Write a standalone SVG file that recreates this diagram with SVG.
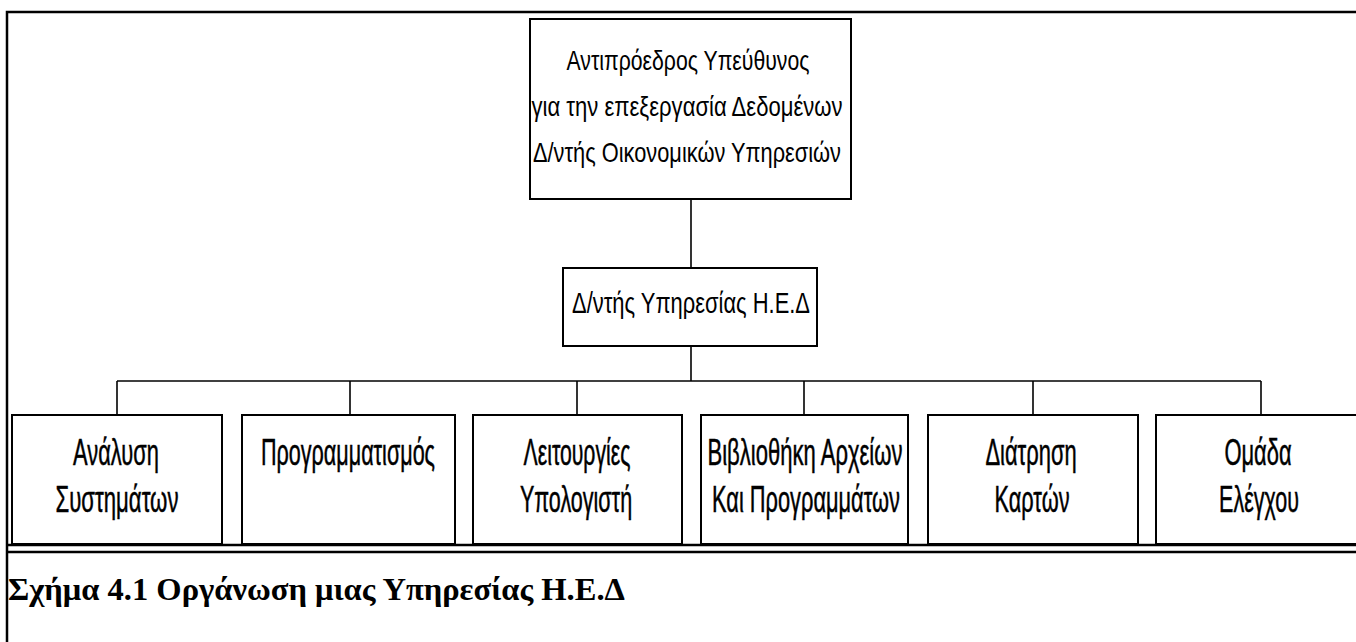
<svg xmlns="http://www.w3.org/2000/svg" width="1356" height="642" viewBox="0 0 1356 642">
<style>
.box{fill:#fff;stroke:#000;stroke-width:2}
.frame{fill:none;stroke:#000;stroke-width:2.5}
.conn{fill:none;stroke:#000;stroke-width:1.6}
.t{font-family:"Liberation Sans Narrow","Liberation Sans",Arial,sans-serif;fill:#000;text-anchor:middle}
.top{font-size:28px}
.mid{font-size:29px}
.low{font-size:37px;stroke:#000;stroke-width:0.5}
.cap{font-family:"Liberation Serif","Times New Roman",serif;font-weight:bold;font-size:31px;fill:#000}
</style>
<rect width="1356" height="642" fill="#fff"/>
<g id="frame">
<path class="frame" d="M7,642 V12 H1356"/>
<line class="frame" x1="7" y1="545" x2="1356" y2="545" stroke-width="3"/>
<line class="frame" x1="7" y1="552" x2="1356" y2="552" stroke-width="1.8"/>
</g>
<g id="connectors">
<line class="conn" x1="691" y1="199" x2="691" y2="268"/>
<line class="conn" x1="691" y1="346" x2="691" y2="381"/>
<line class="conn" x1="117" y1="381" x2="1261" y2="381"/>
<line class="conn" x1="117" y1="381" x2="117" y2="415"/>
<line class="conn" x1="350" y1="381" x2="350" y2="415"/>
<line class="conn" x1="577" y1="381" x2="577" y2="415"/>
<line class="conn" x1="804" y1="381" x2="804" y2="415"/>
<line class="conn" x1="1033" y1="381" x2="1033" y2="415"/>
<line class="conn" x1="1261" y1="381" x2="1261" y2="415"/>
</g>
<g id="n_top">
<rect class="box" x="530" y="19" width="321" height="180"/>
<text class="t top" x="688" y="70" textLength="243" lengthAdjust="spacingAndGlyphs">Αντιπρόεδρος Υπεύθυνος</text>
<text class="t top" x="687" y="116" textLength="311" lengthAdjust="spacingAndGlyphs">για την επεξεργασία Δεδομένων</text>
<text class="t top" x="687" y="162" textLength="308" lengthAdjust="spacingAndGlyphs">Δ/ντής Οικονομικών Υπηρεσιών</text>
</g>
<g id="n_mid">
<rect class="box" x="563" y="268" width="254" height="78"/>
<text class="t mid" x="691" y="313" textLength="238" lengthAdjust="spacingAndGlyphs">Δ/ντής Υπηρεσίας Η.Ε.Δ</text>
</g>
<g id="n1">
<rect class="box" x="12" y="415" width="210" height="129"/>
<text class="t low" transform="translate(116,465) scale(0.6,1)" textLength="143" lengthAdjust="spacingAndGlyphs">Ανάλυση</text>
<text class="t low" transform="translate(117,512) scale(0.6,1)" textLength="205" lengthAdjust="spacingAndGlyphs">Συστημάτων</text>
</g>
<g id="n2">
<rect class="box" x="242" y="415" width="213" height="129"/>
<text class="t low" transform="translate(348,465) scale(0.6,1)" textLength="290" lengthAdjust="spacingAndGlyphs">Προγραμματισμός</text>
</g>
<g id="n3">
<rect class="box" x="473" y="415" width="209" height="129"/>
<text class="t low" transform="translate(577,465) scale(0.6,1)" textLength="178" lengthAdjust="spacingAndGlyphs">Λειτουργίες</text>
<text class="t low" transform="translate(576,512) scale(0.6,1)" textLength="187" lengthAdjust="spacingAndGlyphs">Υπολογιστή</text>
</g>
<g id="n4">
<rect class="box" x="701" y="415" width="207" height="129"/>
<text class="t low" transform="translate(805,465) scale(0.6,1)" textLength="325" lengthAdjust="spacingAndGlyphs">Βιβλιοθήκη Αρχείων</text>
<text class="t low" transform="translate(806,512) scale(0.6,1)" textLength="313" lengthAdjust="spacingAndGlyphs">Και Προγραμμάτων</text>
</g>
<g id="n5">
<rect class="box" x="928" y="415" width="210" height="129"/>
<text class="t low" transform="translate(1031,465) scale(0.6,1)" textLength="152" lengthAdjust="spacingAndGlyphs">Διάτρηση</text>
<text class="t low" transform="translate(1032,512) scale(0.6,1)" textLength="125" lengthAdjust="spacingAndGlyphs">Καρτών</text>
</g>
<g id="n6">
<rect class="box" x="1156" y="415" width="210" height="129"/>
<text class="t low" transform="translate(1258,465) scale(0.6,1)" textLength="112" lengthAdjust="spacingAndGlyphs">Ομάδα</text>
<text class="t low" transform="translate(1259,512) scale(0.6,1)" textLength="133" lengthAdjust="spacingAndGlyphs">Ελέγχου</text>
</g>
<g id="caption">
<text class="cap" x="8" y="600" textLength="617" lengthAdjust="spacingAndGlyphs">Σχήμα 4.1 Οργάνωση μιας Υπηρεσίας Η.Ε.Δ</text>
</g>
</svg>
